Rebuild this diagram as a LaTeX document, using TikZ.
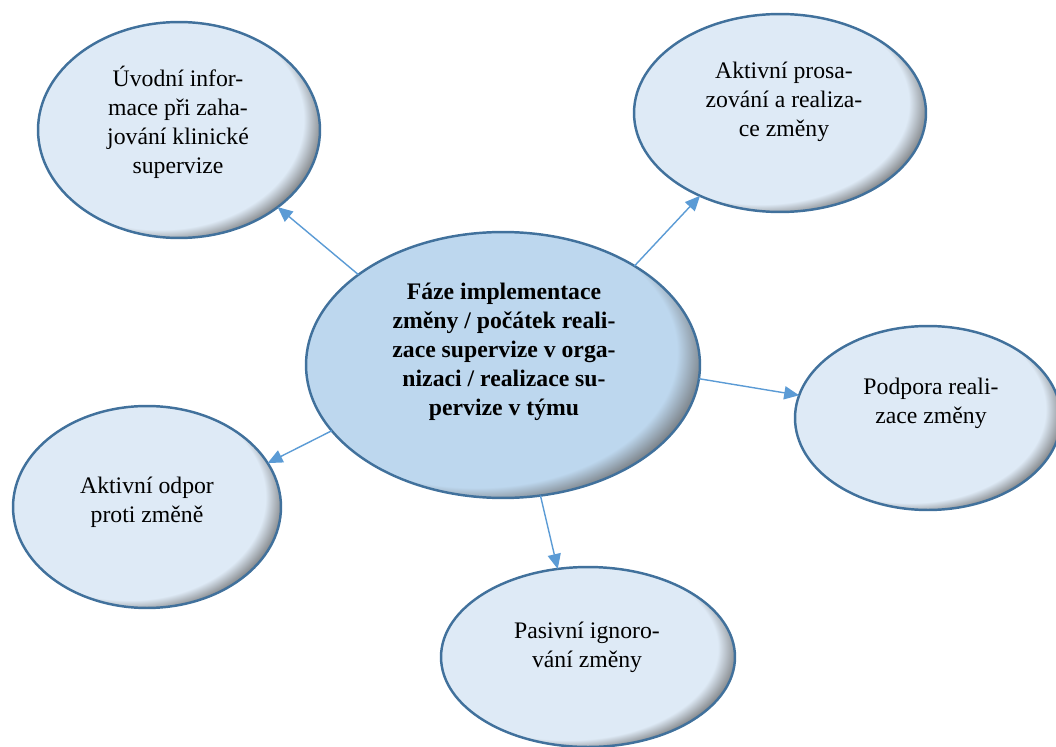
\documentclass[tikz,border=0pt]{standalone}
\usepackage{fontspec}
\setmainfont{Liberation Serif}
\usetikzlibrary{arrows.meta,shapes.geometric}

\definecolor{bubblefill}{HTML}{DEEAF6}
\definecolor{hubfill}{HTML}{BDD7EE}
\definecolor{rimcol}{HTML}{41719C}
\definecolor{linkcol}{HTML}{5B9BD5}
\definecolor{shadecol}{HTML}{666666}
\definecolor{shadedeep}{HTML}{404040}

% bevel-like inner shadow towards the lower right
\pgfdeclareradialshading{bevellight}{\pgfpoint{-7bp}{5bp}}{%
  color(0bp)=(bubblefill); color(25.5bp)=(bubblefill);
  color(29.5bp)=(shadecol); color(50bp)=(shadedeep)}
\pgfdeclareradialshading{bevelhub}{\pgfpoint{-7bp}{5bp}}{%
  color(0bp)=(hubfill); color(25.5bp)=(hubfill);
  color(29.5bp)=(shadecol); color(50bp)=(shadedeep)}

\tikzset{
  bubble/.style={ellipse, draw=rimcol, line width=1.4pt, shade, shading=bevellight,
    inner sep=0pt, outer sep=0pt},
  hub/.style={bubble, shading=bevelhub},
  bubbletext/.style={align=center, font=\fontsize{13.5}{16.5}\selectfont, inner sep=0pt},
  hubtext/.style={bubbletext, font=\fontsize{13.5}{16.5}\selectfont\bfseries},
  conn/.style={draw=linkcol, line width=0.8pt,
    -{Triangle[length=8.5pt,width=7.5pt,fill=linkcol]}}
}

\begin{document}
\begin{tikzpicture}[x=0.02cm,y=-0.02cm]
\useasboundingbox (0,0) rectangle (1056,747);

% central phase
\node[hub, minimum width=7.88cm, minimum height=5.32cm] (c) at (503,365) {};
\node[hubtext] (tc) at (504,352) {Fáze implementace\\změny / počátek reali-\\zace supervize v orga-\\nizaci / realizace su-\\pervize v týmu};

% surrounding reactions
\node[bubble, minimum width=5.64cm, minimum height=4.32cm] (e1) at (179,130) {};
\node[bubbletext] (t1) at (178,122) {Úvodní infor-\\mace při zaha-\\jování klinické\\supervize};

\node[bubble, minimum width=5.84cm, minimum height=3.96cm] (e2) at (780,113) {};
\node[bubbletext] (t2) at (784,102) {Aktivní prosa-\\zování a realiza-\\ce změny};

\node[bubble, minimum width=5.32cm, minimum height=3.68cm] (e3) at (928,418) {};
\node[bubbletext] (t3) at (931,403) {Podpora reali-\\zace změny};

\node[bubble, minimum width=5.36cm, minimum height=4.04cm] (e4) at (147,507) {};
\node[bubbletext] (t4) at (147,502) {Aktivní odpor\\proti změně};

\node[bubble, minimum width=5.88cm, minimum height=3.6cm] (e5) at (588,657) {};
\node[bubbletext] (t5) at (587,647) {Pasivní ignoro-\\vání změny};

% connectors
\draw[conn] (c.148.4) -- (e1.-38.5);
\draw[conn] (c.37.7) -- (e2.-134);
\draw[conn] (c.-4.1) -- (e3.170);
\draw[conn] (c.201.5) -- (e4.20.5);
\draw[conn] (c.-74) -- (e5.109.2);
\end{tikzpicture}
\end{document}
